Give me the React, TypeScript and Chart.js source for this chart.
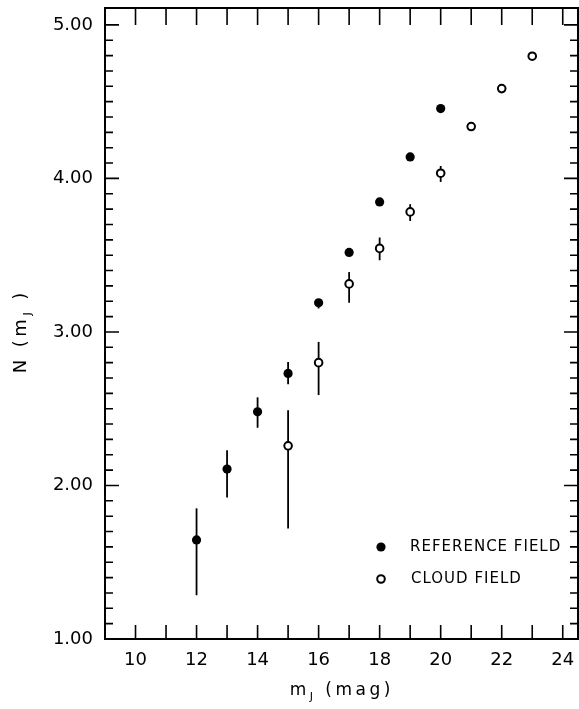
import React, { useEffect, useRef } from "react";
import { Chart, registerables } from "chart.js";

Chart.register(...registerables);

// ---- data ----
const X_TICKS = [10, 12, 14, 16, 18, 20, 22, 24];
const Y_TICKS = [1, 2, 3, 4, 5];

const REF_MAG = [12, 13, 14, 15, 16, 17, 18, 19, 20];
const REF_N = [1.645, 2.107, 2.48, 2.73, 3.19, 3.518, 3.847, 4.14, 4.455];
const REF_LO = [1.285, 1.922, 2.376, 2.66, 3.153, null, null, null, null];
const REF_HI = [1.851, 2.23, 2.574, 2.805, 3.215, null, null, null, null];

const CLOUD_MAG = [15, 16, 17, 18, 19, 20, 21, 22, 23];
const CLOUD_N = [2.258, 2.8, 3.313, 3.544, 3.782, 4.034, 4.338, 4.585, 4.796];
const CLOUD_LO = [1.72, 2.589, 3.19, 3.467, 3.723, 3.977, null, null, null];
const CLOUD_HI = [2.49, 2.935, 3.39, 3.615, 3.832, 4.081, null, null, null];

const LEGEND_LABELS = ["REFERENCE FIELD", "CLOUD FIELD"];
const X_MIN = 9;
const X_MAX = 24.5;
const Y_MIN = 1;
const Y_MAX = 5.11;

const FONT = "'DejaVu Sans', 'Liberation Sans', sans-serif";

type Part = { t: string; size: number; dy?: number };

function drawParts(ctx: CanvasRenderingContext2D, parts: Part[], cx: number, cy: number, spacing: number) {
  let total = 0;
  for (const p of parts) {
    ctx.font = `${p.size}px ${FONT}`;
    for (const ch of p.t) total += ctx.measureText(ch).width + spacing;
  }
  total -= spacing;
  let x = cx - total / 2;
  ctx.textBaseline = "alphabetic";
  ctx.textAlign = "left";
  parts.forEach((p) => {
    ctx.font = `${p.size}px ${FONT}`;
    for (const ch of p.t) {
      ctx.fillText(ch, x, cy + (p.dy || 0));
      x += ctx.measureText(ch).width + spacing;
    }
  });
}

const noPad = (s: any) => {
  s.paddingTop = 0;
  s.paddingBottom = 0;
  s.paddingLeft = 0;
  s.paddingRight = 0;
};

const decorPlugin = {
  id: "decor",
  beforeDatasetsDraw(chart: any) {
    const ctx: CanvasRenderingContext2D = chart.ctx;
    const ys = chart.scales.y;
    ctx.save();
    ctx.strokeStyle = "#000";
    ctx.lineWidth = 1.8;
    const sets = [
      { lo: REF_LO, hi: REF_HI },
      { lo: CLOUD_LO, hi: CLOUD_HI },
    ];
    sets.forEach((s, di) => {
      const meta = chart.getDatasetMeta(di);
      meta.data.forEach((pt: any, j: number) => {
        const lo = s.lo[j];
        const hi = s.hi[j];
        if (lo == null || hi == null) return;
        ctx.beginPath();
        ctx.moveTo(pt.x, ys.getPixelForValue(lo));
        ctx.lineTo(pt.x, ys.getPixelForValue(hi));
        ctx.stroke();
      });
    });
    ctx.restore();
  },
  afterDraw(chart: any) {
    const ctx: CanvasRenderingContext2D = chart.ctx;
    const { left, right, top, bottom } = chart.chartArea;
    const xs = chart.scales.x;
    const ys = chart.scales.y;
    ctx.save();
    ctx.strokeStyle = "#000";
    // frame
    ctx.lineWidth = 2;
    ctx.strokeRect(left, top, right - left, bottom - top);
    // ticks
    ctx.lineWidth = 1.6;
    ctx.beginPath();
    for (let m = 10; m <= 24; m++) {
      const x = xs.getPixelForValue(m);
      ctx.moveTo(x, bottom);
      ctx.lineTo(x, bottom - 14);
      ctx.moveTo(x, top);
      ctx.lineTo(x, top + 17);
    }
    for (let i = 10; i <= 51; i++) {
      const v = i / 10;
      if (v > Y_MAX - 0.03 || v <= Y_MIN) continue;
      const y = ys.getPixelForValue(v);
      const major = i % 10 === 0;
      const len = major ? 14 : 8;
      ctx.moveTo(left, y);
      ctx.lineTo(left + len, y);
      ctx.moveTo(right, y);
      ctx.lineTo(right - len, y);
    }
    ctx.stroke();

    // legend
    ctx.fillStyle = "#000";
    ctx.beginPath();
    ctx.arc(381, 547, 4.6, 0, Math.PI * 2);
    ctx.fill();
    ctx.lineWidth = 2;
    ctx.beginPath();
    ctx.arc(381, 579, 3.8, 0, Math.PI * 2);
    ctx.fillStyle = "#fff";
    ctx.fill();
    ctx.stroke();
    ctx.fillStyle = "#000";
    ctx.font = `15px ${FONT}`;
    ctx.textBaseline = "middle";
    ctx.textAlign = "left";
    (ctx as any).letterSpacing = "1px";
    ctx.fillText(LEGEND_LABELS[0], 410, 547);
    ctx.fillText(LEGEND_LABELS[1], 411, 579);
    (ctx as any).letterSpacing = "0px";

    // x title
    drawParts(
      ctx,
      [
        { t: "m", size: 17 },
        { t: "J", size: 11, dy: 5 },
        { t: " (mag)", size: 17 },
      ],
      340,
      695,
      3.5
    );

    // y title
    ctx.translate(26, 333);
    ctx.rotate(-Math.PI / 2);
    drawParts(
      ctx,
      [
        { t: "N (m", size: 18 },
        { t: "J", size: 11, dy: 5 },
        { t: " )", size: 18 },
      ],
      0,
      0,
      3.5
    );
    ctx.restore();
  },
};

export default function App() {
  const ref = useRef<HTMLCanvasElement | null>(null);
  useEffect(() => {
    if (!ref.current) return;
    const chart = new Chart(ref.current, {
      type: "scatter",
      data: {
        datasets: [
          {
            label: LEGEND_LABELS[0],
            data: REF_MAG.map((x, i) => ({ x, y: REF_N[i] })),
            pointRadius: 4.6,
            pointBackgroundColor: "#000",
            pointBorderColor: "#000",
            pointBorderWidth: 0,
            showLine: false,
          },
          {
            label: LEGEND_LABELS[1],
            data: CLOUD_MAG.map((x, i) => ({ x, y: CLOUD_N[i] })),
            pointRadius: 3.8,
            pointBackgroundColor: "#fff",
            pointBorderColor: "#000",
            pointBorderWidth: 2,
            showLine: false,
          },
        ],
      },
      options: {
        animation: false,
        responsive: true,
        maintainAspectRatio: false,
        layout: { padding: { top: 8, right: 1, left: 0, bottom: 0 }, autoPadding: false },
        plugins: { legend: { display: false }, tooltip: { enabled: false } },
        scales: {
          x: {
            type: "linear",
            min: X_MIN,
            max: X_MAX,
            grid: { display: false, drawTicks: false },
            border: { display: false },
            afterBuildTicks: (s: any) => {
              s.ticks = X_TICKS.map((v) => ({ value: v }));
            },
            afterFit: (s: any) => {
              s.height = 70;
              noPad(s);
            },
            ticks: {
              color: "#000",
              font: { family: FONT, size: 18 },
              padding: 11,
              maxRotation: 0,
              autoSkip: false,
              callback: (v: any) => String(v),
            },
          },
          y: {
            type: "linear",
            min: Y_MIN,
            max: Y_MAX,
            grid: { display: false, drawTicks: false },
            border: { display: false },
            afterBuildTicks: (s: any) => {
              s.ticks = Y_TICKS.map((v) => ({ value: v }));
            },
            afterFit: (s: any) => {
              s.width = 105;
              noPad(s);
            },
            ticks: {
              color: "#000",
              font: { family: FONT, size: 18 },
              padding: 12,
              autoSkip: false,
              callback: (v: any) => Number(v).toFixed(2),
            },
          },
        },
      },
      plugins: [decorPlugin],
    } as any);
    return () => chart.destroy();
  }, []);
  return (
    <div style={{ position: "absolute", left: 0, top: 0, width: 579, height: 709, background: "#fff" }}>
      <canvas ref={ref} />
    </div>
  );
}
